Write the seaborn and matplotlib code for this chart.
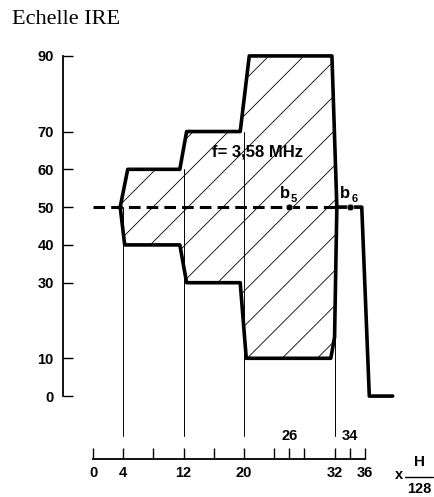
import numpy as np
import pandas as pd
import matplotlib
matplotlib.use("Agg")
import matplotlib.pyplot as plt
from matplotlib.patches import Polygon
import seaborn as sns

# ---------------- data ----------------
upper_x = [3.6, 4.6, 11.5, 12.4, 19.5, 20.7, 31.65, 32.3]
upper_y = [50, 60, 60, 70, 70, 90, 90, 50]
lower_x = [3.6, 4.2, 11.5, 12.4, 19.5, 20.3, 31.5, 32.0, 32.3]
lower_y = [50, 40, 40, 30, 30, 10, 10, 15.6, 50]
dash_x = [0, 32.3]
dash_y = [50, 50]
tail_x = [32.3, 35.6, 36.6, 39.7]
tail_y = [50, 50, 0, 0]
marker_x = [26, 34]
marker_y = [50, 50]
marker_names = ["5", "6"]
guide_x = [4, 12, 20, 32]
guide_top = [50, 60, 70, 50]
y_ticks = [0, 10, 30, 40, 50, 60, 70, 90]
x_ticks = [0, 4, 8, 12, 16, 20, 24, 26, 28, 32, 34, 36]
x_labelled = [0, 4, 12, 20, 32, 36]
x_top_labels = [26, 34]

# ---------------- figure ----------------
sns.set_style("white")
plt.rcParams["font.family"] = ["Liberation Sans", "DejaVu Sans"]

fig = plt.figure(figsize=(4.34, 4.97), dpi=100)
ax = fig.add_axes([0, 0, 1, 1])
ax.set_xlim(-12.32, 45.17)
ax.set_ylim(-26.7, 104.8)
ax.patch.set_alpha(0)

# hatched envelope polygon
poly_pts = list(zip(upper_x, upper_y)) + list(zip(lower_x[::-1], lower_y[::-1]))
poly = Polygon(poly_pts, closed=True, facecolor="none", edgecolor="none")
ax.add_patch(poly)
spacing = 4.64
for k in range(-10, 12):
    x0 = 1.5 + k * spacing
    xs = np.array([x0, x0 + 60])
    ln, = ax.plot(xs, 2.0 * (xs - x0), color="black", lw=0.6)
    ln.set_clip_path(poly)

# thin guide lines
for gx, gt in zip(guide_x, guide_top):
    ax.plot([gx, gx], [gt, -10.6], color="black", lw=0.7)

# dashed 50 line
sns.lineplot(x=dash_x, y=dash_y, ax=ax, color="black", lw=2.2, sort=False,
             dashes=False, linestyle=(0, (3.8, 2.0)))
# envelope boundaries
sns.lineplot(x=upper_x, y=upper_y, ax=ax, color="black", lw=2.6, sort=False)
sns.lineplot(x=lower_x, y=lower_y, ax=ax, color="black", lw=2.6, sort=False)
sns.lineplot(x=tail_x, y=tail_y, ax=ax, color="black", lw=2.6, sort=False)
sns.scatterplot(x=marker_x, y=marker_y, ax=ax, color="black", s=24, zorder=5)

# axes styling
for s in ["top", "right"]:
    ax.spines[s].set_visible(False)
ax.spines["left"].set_position(("data", -4))
ax.spines["left"].set_bounds(0, 90)
ax.spines["bottom"].set_position(("data", -16.7))
ax.spines["bottom"].set_bounds(0, 36)
for s in ["left", "bottom"]:
    ax.spines[s].set_color("black")
    ax.spines[s].set_linewidth(1.3)

ax.set_yticks(y_ticks)
ax.set_yticklabels([str(v) for v in y_ticks])
ax.set_xticks(x_ticks)
ax.set_xticklabels([str(v) if v in x_labelled else "" for v in x_ticks])
ax.tick_params(axis="y", direction="in", length=7.5, width=1, pad=6.5,
               labelsize=10.5, colors="black", left=True)
ax.tick_params(axis="x", direction="in", length=8, width=1, pad=5,
               labelsize=10.5, colors="black", bottom=True)
for lab in ax.get_xticklabels() + ax.get_yticklabels():
    lab.set_fontweight("bold")

bold = dict(fontweight="bold", color="black")
for v in x_top_labels:
    ax.text(v, -10.6, str(v), ha="center", va="center", fontsize=10.5, **bold)

ax.text(15.8, 64.5, "f= 3,58 MHz", ha="left", va="center", fontsize=12, **bold)
for mx, name in zip(marker_x, marker_names):
    ax.text(mx + 0.1, 53.5, "b", ha="right", va="center", fontsize=12, **bold)
    ax.text(mx + 0.2, 52.2, name, ha="left", va="center", fontsize=8, **bold)

ax.text(40.5, -20.9, "x", ha="center", va="center", fontsize=10.5, **bold)
ax.text(43.2, -17.4, "H", ha="center", va="center", fontsize=11, **bold)
ax.text(43.2, -24.6, "128", ha="center", va="center", fontsize=10.5, **bold)
ax.plot([41.3, 45.0], [-21.3, -21.3], color="black", lw=1)

fig.text(12 / 434, 1 - 20 / 497, "Echelle IRE", ha="left", va="center",
         fontsize=16, family=["Liberation Serif", "DejaVu Serif"], color="black")

fig.savefig("out.png", dpi=100)
